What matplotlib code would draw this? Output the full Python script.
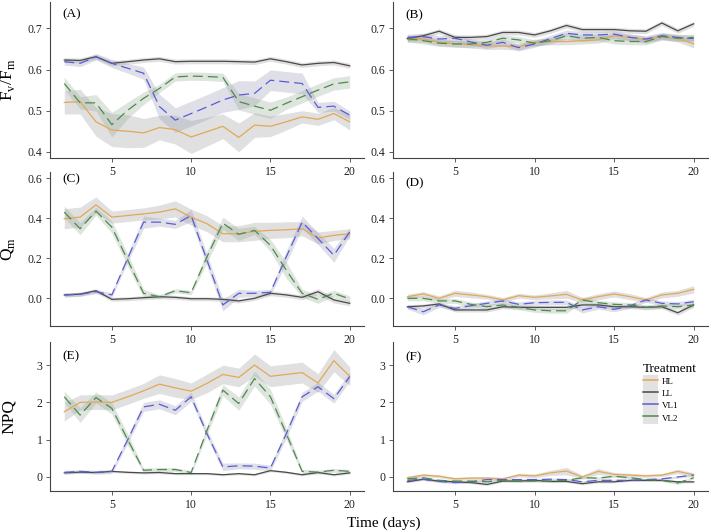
"""
Chlorophyll fluorescence time series: Fv/Fm, Qm and NPQ per light treatment
(left column A/C/E, right column B/D/F), mean line with grey error ribbon.
"""

import numpy as np
import matplotlib
matplotlib.use("Agg")
import matplotlib.pyplot as plt
from matplotlib.lines import Line2D
from matplotlib.patches import Patch
from matplotlib.ticker import FormatStrFormatter

DAYS = list(range(2, 21))
TREATMENTS = ["HL", "LL", "VL1", "VL2"]

# ---- panel A : Fv/Fm ----
A_HL = [0.520, 0.522, 0.473, 0.453, 0.450, 0.446, 0.459, 0.454, 0.436, 0.449,
        0.462, 0.435, 0.465, 0.462, 0.473, 0.485, 0.479, 0.493, 0.473]
A_LL = [0.623, 0.622, 0.631, 0.615, 0.619, 0.623, 0.626, 0.619, 0.620, 0.620,
        0.620, 0.619, 0.618, 0.626, 0.619, 0.611, 0.615, 0.617, 0.609]
A_VL1 = [0.619, 0.615, 0.631, 0.615, 0.603, 0.591, 0.510, 0.477, 0.493, 0.509,
         0.526, 0.538, 0.542, 0.574, 0.570, 0.566, 0.508, 0.511, 0.489]
A_VL2 = [0.566, 0.519, 0.519, 0.466, 0.501, 0.530, 0.554, 0.582, 0.584, 0.583,
         0.581, 0.522, 0.511, 0.501, 0.518, 0.534, 0.550, 0.565, 0.570]
A_HL_SE = [0.028, 0.030, 0.035, 0.040, 0.040, 0.035, 0.030, 0.035, 0.040, 0.035,
           0.030, 0.035, 0.030, 0.025, 0.020, 0.015, 0.015, 0.015, 0.020]
A_LL_SE = [0.006, 0.006, 0.006, 0.006, 0.006, 0.006, 0.006, 0.006, 0.006, 0.006,
           0.006, 0.006, 0.006, 0.006, 0.006, 0.006, 0.006, 0.006, 0.006]
A_VL1_SE = [0.008, 0.008, 0.008, 0.010, 0.012, 0.015, 0.030, 0.030, 0.030, 0.030,
            0.030, 0.035, 0.030, 0.025, 0.025, 0.025, 0.012, 0.012, 0.010]
A_VL2_SE = [0.015, 0.015, 0.020, 0.030, 0.020, 0.015, 0.010, 0.010, 0.010, 0.010,
            0.010, 0.020, 0.020, 0.020, 0.015, 0.015, 0.015, 0.015, 0.015]

# ---- panel B : Fv/Fm ----
B_HL = [0.675, 0.674, 0.666, 0.663, 0.660, 0.657, 0.657, 0.655, 0.666, 0.668,
        0.668, 0.670, 0.672, 0.682, 0.678, 0.672, 0.680, 0.675, 0.662]
B_LL = [0.675, 0.682, 0.693, 0.678, 0.678, 0.680, 0.690, 0.690, 0.684, 0.694,
        0.707, 0.697, 0.697, 0.697, 0.694, 0.693, 0.713, 0.694, 0.711]
B_VL1 = [0.678, 0.680, 0.674, 0.676, 0.667, 0.659, 0.666, 0.653, 0.662, 0.675,
         0.688, 0.684, 0.684, 0.686, 0.678, 0.674, 0.682, 0.678, 0.675]
B_VL2 = [0.675, 0.670, 0.664, 0.662, 0.662, 0.666, 0.676, 0.672, 0.664, 0.670,
         0.682, 0.676, 0.678, 0.670, 0.668, 0.668, 0.680, 0.676, 0.678]
B_HL_SE = [0.008, 0.008, 0.008, 0.008, 0.008, 0.008, 0.008, 0.008, 0.008, 0.008,
           0.008, 0.008, 0.008, 0.008, 0.008, 0.008, 0.008, 0.008, 0.010]
B_LL_SE = [0.006, 0.006, 0.006, 0.006, 0.006, 0.006, 0.006, 0.006, 0.006, 0.006,
           0.006, 0.006, 0.006, 0.006, 0.006, 0.006, 0.006, 0.006, 0.006]
B_VL1_SE = [0.008, 0.008, 0.008, 0.008, 0.008, 0.008, 0.008, 0.008, 0.008, 0.008,
            0.008, 0.008, 0.008, 0.008, 0.008, 0.008, 0.008, 0.008, 0.008]
B_VL2_SE = [0.008, 0.008, 0.008, 0.008, 0.008, 0.008, 0.008, 0.008, 0.008, 0.008,
            0.008, 0.008, 0.008, 0.008, 0.008, 0.008, 0.008, 0.008, 0.008]

# ---- panel C : Qm ----
C_HL = [0.397, 0.405, 0.466, 0.405, 0.413, 0.421, 0.430, 0.446, 0.405, 0.372,
        0.322, 0.322, 0.334, 0.339, 0.342, 0.347, 0.301, 0.314, 0.322]
C_LL = [0.017, 0.021, 0.038, -0.005, -0.002, 0.003, 0.008, 0.005, -0.002, -0.002,
        -0.005, -0.013, 0.000, 0.025, 0.017, 0.005, 0.033, -0.008, -0.025]
C_VL1 = [0.017, 0.020, 0.033, 0.017, 0.200, 0.380, 0.380, 0.369, 0.413, 0.190,
         -0.033, 0.025, 0.025, 0.030, 0.207, 0.380, 0.298, 0.215, 0.331]
C_VL2 = [0.430, 0.347, 0.435, 0.355, 0.190, 0.025, 0.008, 0.038, 0.028, 0.207,
         0.375, 0.319, 0.339, 0.264, 0.140, 0.025, -0.005, 0.025, -0.003]
C_HL_SE = [0.050, 0.050, 0.040, 0.030, 0.030, 0.030, 0.035, 0.040, 0.040, 0.040,
           0.040, 0.040, 0.045, 0.040, 0.040, 0.035, 0.030, 0.025, 0.025]
C_LL_SE = [0.010, 0.010, 0.010, 0.010, 0.010, 0.010, 0.010, 0.010, 0.010, 0.010,
           0.010, 0.010, 0.010, 0.012, 0.012, 0.012, 0.015, 0.015, 0.012]
C_VL1_SE = [0.010, 0.010, 0.010, 0.012, 0.020, 0.030, 0.020, 0.020, 0.030, 0.030,
            0.030, 0.020, 0.015, 0.015, 0.030, 0.030, 0.030, 0.035, 0.020]
C_VL2_SE = [0.030, 0.030, 0.020, 0.030, 0.030, 0.020, 0.010, 0.010, 0.010, 0.030,
            0.030, 0.030, 0.020, 0.030, 0.040, 0.020, 0.020, 0.015, 0.015]

# ---- panel D : Qm ----
D_HL = [0.008, 0.022, 0.000, 0.025, 0.017, 0.008, -0.008, 0.013, 0.005, 0.012,
        0.020, -0.008, 0.008, 0.022, 0.008, -0.008, 0.017, 0.025, 0.045]
D_LL = [-0.042, -0.038, -0.028, -0.058, -0.058, -0.058, -0.042, -0.045, -0.045, -0.045,
        -0.045, -0.033, -0.033, -0.042, -0.042, -0.045, -0.042, -0.072, -0.033]
D_VL1 = [-0.042, -0.067, -0.033, -0.050, -0.037, -0.025, -0.013, -0.030, -0.022, -0.020,
         -0.020, -0.058, -0.042, -0.055, -0.038, -0.008, -0.025, -0.028, -0.017]
D_VL2 = [0.000, 0.000, -0.013, -0.013, -0.030, -0.042, -0.033, -0.045, -0.058, -0.062,
         -0.062, -0.008, -0.022, -0.030, -0.033, -0.045, -0.038, -0.042, -0.033]
D_HL_SE = [0.012, 0.012, 0.012, 0.015, 0.015, 0.012, 0.012, 0.012, 0.012, 0.015,
           0.020, 0.012, 0.015, 0.015, 0.015, 0.012, 0.015, 0.015, 0.018]
D_LL_SE = [0.010, 0.010, 0.010, 0.010, 0.010, 0.010, 0.010, 0.010, 0.010, 0.010,
           0.010, 0.010, 0.010, 0.010, 0.010, 0.010, 0.010, 0.012, 0.012]
D_VL1_SE = [0.012, 0.015, 0.012, 0.012, 0.012, 0.012, 0.012, 0.012, 0.012, 0.012,
            0.012, 0.015, 0.012, 0.012, 0.012, 0.012, 0.012, 0.012, 0.012]
D_VL2_SE = [0.012, 0.012, 0.012, 0.012, 0.012, 0.012, 0.012, 0.012, 0.012, 0.012,
            0.012, 0.015, 0.012, 0.012, 0.012, 0.012, 0.012, 0.012, 0.012]

# ---- panel E : NPQ ----
E_HL = [1.75, 2.00, 2.01, 2.00, 2.15, 2.31, 2.49, 2.39, 2.30, 2.51,
        2.75, 2.67, 3.00, 2.70, 2.75, 2.80, 2.52, 3.12, 2.70]
E_LL = [0.11, 0.13, 0.12, 0.15, 0.125, 0.11, 0.12, 0.09, 0.09, 0.09,
        0.06, 0.09, 0.06, 0.17, 0.125, 0.06, 0.12, 0.06, 0.11]
E_VL1 = [0.125, 0.15, 0.125, 0.15, 1.00, 1.88, 1.95, 1.79, 2.15, 1.16,
         0.27, 0.30, 0.29, 0.24, 1.16, 2.15, 2.42, 2.10, 2.69]
E_VL2 = [2.15, 1.66, 2.13, 1.84, 1.00, 0.18, 0.20, 0.20, 0.12, 1.25,
         2.33, 1.97, 2.64, 2.15, 1.16, 0.15, 0.13, 0.18, 0.15]
E_HL_SE = [0.25, 0.20, 0.20, 0.20, 0.20, 0.20, 0.25, 0.25, 0.22, 0.25,
           0.25, 0.25, 0.30, 0.28, 0.28, 0.28, 0.25, 0.30, 0.25]
E_LL_SE = [0.03, 0.03, 0.03, 0.03, 0.03, 0.03, 0.03, 0.03, 0.03, 0.03,
           0.03, 0.03, 0.03, 0.03, 0.03, 0.03, 0.03, 0.03, 0.03]
E_VL1_SE = [0.05, 0.05, 0.05, 0.06, 0.10, 0.12, 0.12, 0.12, 0.12, 0.10,
            0.10, 0.08, 0.08, 0.08, 0.12, 0.12, 0.12, 0.12, 0.12]
E_VL2_SE = [0.15, 0.20, 0.15, 0.15, 0.15, 0.06, 0.05, 0.05, 0.05, 0.12,
            0.15, 0.18, 0.20, 0.20, 0.15, 0.06, 0.05, 0.05, 0.05]

# ---- panel F : NPQ ----
F_HL = [-0.02, 0.05, 0.02, -0.05, -0.03, -0.03, -0.05, 0.05, 0.03, 0.11,
        0.16, 0.00, 0.15, 0.07, 0.05, 0.03, 0.05, 0.15, 0.06]
F_LL = [-0.13, -0.06, -0.11, -0.13, -0.15, -0.20, -0.11, -0.11, -0.09, -0.12,
        -0.12, -0.18, -0.13, -0.13, -0.09, -0.09, -0.09, -0.13, -0.13]
F_VL1 = [-0.09, -0.06, -0.12, -0.15, -0.13, -0.07, -0.07, -0.07, -0.07, -0.06,
         -0.07, -0.13, -0.09, -0.09, -0.09, -0.07, -0.05, 0.00, 0.05]
F_VL2 = [-0.05, -0.02, -0.09, -0.11, -0.11, -0.13, -0.09, -0.11, -0.11, -0.11,
         -0.09, -0.02, -0.03, 0.02, -0.02, -0.07, -0.09, -0.16, -0.02]
F_HL_SE = [0.04, 0.04, 0.04, 0.04, 0.04, 0.04, 0.04, 0.05, 0.05, 0.07,
           0.10, 0.05, 0.08, 0.05, 0.05, 0.04, 0.04, 0.06, 0.05]
F_LL_SE = [0.03, 0.03, 0.03, 0.03, 0.03, 0.03, 0.03, 0.03, 0.03, 0.03,
           0.03, 0.03, 0.03, 0.03, 0.03, 0.03, 0.03, 0.03, 0.03]
F_VL1_SE = [0.03, 0.03, 0.03, 0.03, 0.03, 0.03, 0.03, 0.03, 0.03, 0.03,
            0.03, 0.03, 0.03, 0.03, 0.03, 0.03, 0.03, 0.03, 0.04]
F_VL2_SE = [0.03, 0.03, 0.03, 0.03, 0.03, 0.03, 0.03, 0.03, 0.03, 0.03,
            0.03, 0.03, 0.03, 0.03, 0.03, 0.03, 0.03, 0.04, 0.03]

PANELS = {
    "A": ([A_HL, A_LL, A_VL1, A_VL2], [A_HL_SE, A_LL_SE, A_VL1_SE, A_VL2_SE]),
    "B": ([B_HL, B_LL, B_VL1, B_VL2], [B_HL_SE, B_LL_SE, B_VL1_SE, B_VL2_SE]),
    "C": ([C_HL, C_LL, C_VL1, C_VL2], [C_HL_SE, C_LL_SE, C_VL1_SE, C_VL2_SE]),
    "D": ([D_HL, D_LL, D_VL1, D_VL2], [D_HL_SE, D_LL_SE, D_VL1_SE, D_VL2_SE]),
    "E": ([E_HL, E_LL, E_VL1, E_VL2], [E_HL_SE, E_LL_SE, E_VL1_SE, E_VL2_SE]),
    "F": ([F_HL, F_LL, F_VL1, F_VL2], [F_HL_SE, F_LL_SE, F_VL1_SE, F_VL2_SE]),
}

COLORS = {"HL": "#E3A857", "LL": "#4a4a4a", "VL1": "#5b5bd6", "VL2": "#4d8a4d"}
RIBBON = {"HL": "#9a9a9a", "LL": "#9a9a9a", "VL1": "#9696b4", "VL2": "#93a893"}
DASHED = {"HL": False, "LL": False, "VL1": True, "VL2": True}

ROW_YLIM = [(0.385, 0.764), (-0.138, 0.63), (-0.376, 3.62)]
ROW_TICKS = [[0.4, 0.5, 0.6, 0.7], [0.0, 0.2, 0.4, 0.6], [0, 1, 2, 3]]
ROW_FMT = ["%.1f", "%.1f", "%d"]
ROW_LABEL = [r"F$_\mathregular{v}$/F$_\mathregular{m}$", r"Q$_\mathregular{m}$", "NPQ"]
TAG_Y = {"A": 0.92, "B": 0.917, "C": 0.955, "D": 0.925, "E": 0.905, "F": 0.9}

plt.rcParams["font.family"] = ["Liberation Serif", "DejaVu Serif"]
plt.rcParams["mathtext.fontset"] = "custom"
plt.rcParams["mathtext.rm"] = "Liberation Serif"

W, H = 709, 532
fig = plt.figure(figsize=(W / 100, H / 100), dpi=100)

col_x = [50, 393]
col_w = [314, 315]
row_top = [2, 172, 342]
row_bot = [158, 326, 491]

axes = {}
for r in range(3):
    for c in range(2):
        tag = "ABCDEF"[r * 2 + c]
        ax = fig.add_axes([col_x[c] / W, 1 - row_bot[r] / H,
                           col_w[c] / W, (row_bot[r] - row_top[r]) / H])
        ax.patch.set_visible(False)  # keep tick labels of the row above visible
        axes[tag] = ax
        means, ses = PANELS[tag]
        x = np.array(DAYS)
        for name, m, s in zip(TREATMENTS, means, ses):
            m = np.array(m)
            s = np.array(s)
            ax.fill_between(x, m - s, m + s, color=RIBBON[name], alpha=0.3,
                            lw=0, zorder=1)
        for name, m in zip(TREATMENTS, means):
            ls = (0, (8, 4)) if DASHED[name] else "-"
            ax.plot(x, m, color=COLORS[name], lw=0.9, ls=ls, zorder=3)

        ax.set_xlim(1.1, 20.9)
        ax.set_ylim(*ROW_YLIM[r])
        ax.set_xticks([5, 10, 15, 20])
        ax.set_yticks(ROW_TICKS[r])
        ax.yaxis.set_major_formatter(FormatStrFormatter(ROW_FMT[r]))
        for side in ("top", "right"):
            ax.spines[side].set_visible(False)
        for side in ("left", "bottom"):
            ax.spines[side].set_color("#444444")
            ax.spines[side].set_linewidth(0.8)
        ax.tick_params(length=3, width=0.6, color="#444444", labelsize=8.5,
                       labelcolor="#222222", pad=2.5)
        ax.text(0.038, TAG_Y[tag], f"({tag})", transform=ax.transAxes,
                ha="left", va="center", fontsize=9.5)
        if c == 0:
            ax.set_ylabel(ROW_LABEL[r], fontsize=12.5)
            ax.yaxis.set_label_coords(-0.105, 0.5)

fig.text(384 / W, 1 - 523 / H, "Time (days)", ha="center", va="center",
         fontsize=11)

handles = []
for name in TREATMENTS:
    box = Patch(facecolor="#e2e2e2", edgecolor="none")
    line = Line2D([], [], color=COLORS[name], lw=1.1)
    handles.append((box, line))
leg = axes["F"].legend(handles, TREATMENTS, title="Treatment", frameon=False,
                       loc="upper left",
                       bbox_to_anchor=(643 / W, 1 - 363 / H),
                       bbox_transform=fig.transFigure, fontsize=6.5,
                       title_fontsize=9.5, handlelength=1.7, handleheight=1.7,
                       labelspacing=0, handletextpad=0.4, borderpad=0,
                       borderaxespad=0, alignment="left")

fig.savefig("out.png", dpi=100)
